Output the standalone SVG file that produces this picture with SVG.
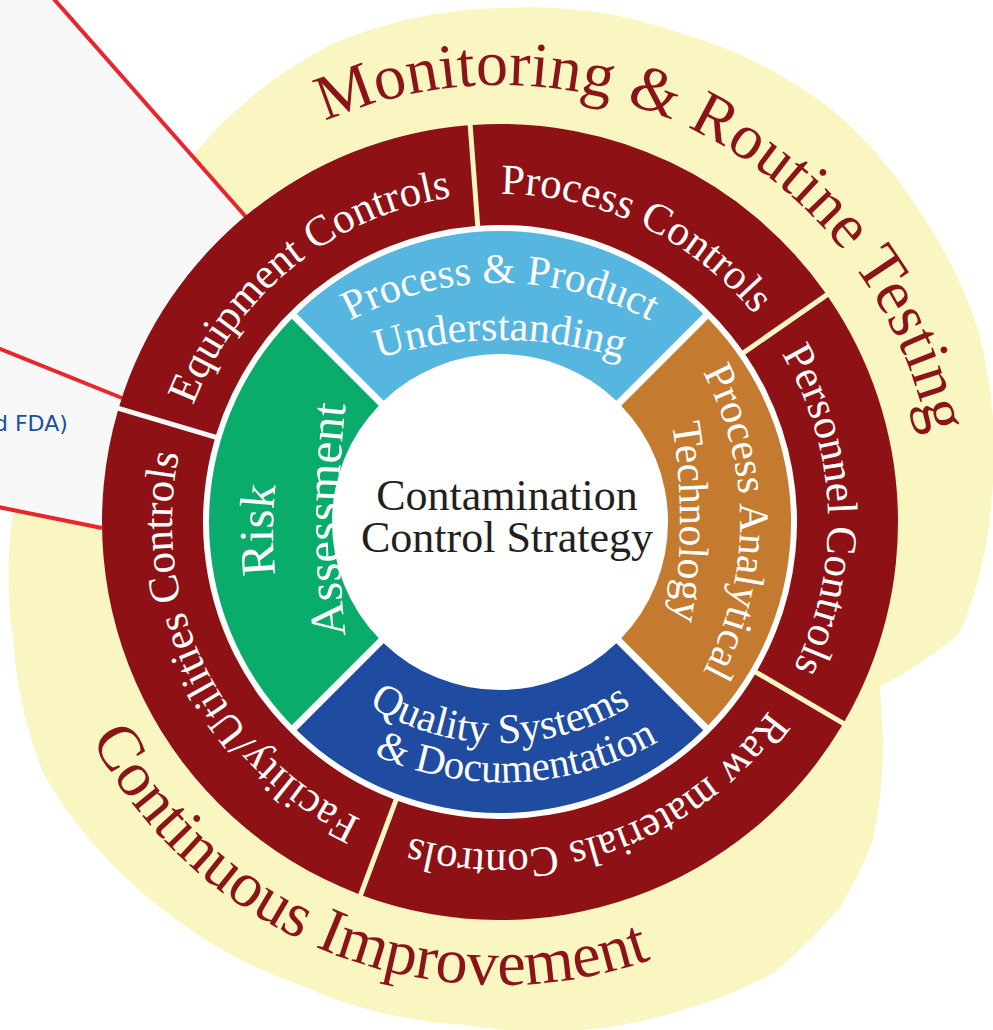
<svg xmlns="http://www.w3.org/2000/svg" width="993" height="1030" viewBox="0 0 993 1030">
<defs>
<style>
.serif{font-family:'Liberation Serif','Times New Roman',serif;}
.lbl{fill:#ffffff;font-size:43px;}
.inl{fill:#ffffff;font-size:42px;}
.inl41{fill:#ffffff;font-size:41px;}
.inl49{fill:#ffffff;font-size:49px;}
.head{fill:#8b1418;font-size:64px;}
.ctr{fill:#231f20;font-size:44px;}
.dark{fill:#8e1116;}
.redline{stroke:#e8262b;stroke-width:4;fill:none;}
</style>
<path id="tp-eq" d="M 212.71 680.27 A 328 328 0 0 1 715.84 275.02"/>
<path id="tp-pc" d="M 232.80 331.76 A 328 328 0 0 1 816.16 609.38"/>
<path id="tp-pe" d="M 544.52 197.03 A 328 328 0 0 1 569.31 842.59"/>
<path id="tp-rm" d="M 823.45 467.58 A 328 328 0 0 1 214.65 683.77"/>
<path id="tp-fu" d="M 592.89 836.58 A 328 328 0 0 1 305.12 258.15"/>
<path id="tp-ppu1" d="M 226.34 441 A 316 316 0 0 1 773.66 441"/>
<path id="tp-ppu2" d="M 233.9 436.9 A 414 414 0 0 1 766.1 436.9"/>
<path id="tp-pat1" d="M 646.3 295.7 A 320 320 0 0 1 646.3 748.3"/>
<path id="tp-pat2" d="M 623.8 268.4 A 600 600 0 0 1 623.8 775.6"/>
<path id="tp-ra1" d="M 390.2 812.8 A 400 400 0 0 1 390.2 247.2"/>
<path id="tp-ra2" d="M 373.1 778.8 A 1000 1000 0 0 1 373.1 261.2"/>
<path id="tp-qs1" d="M 285.2 619 A 248 248 0 0 0 714.8 619"/>
<path id="tp-qs2" d="M 236.24 636.26 A 317 317 0 0 0 784.70 611.03"/>
<path id="tp-mon" d="M 63.45 541.82 A 437 437 0 1 1 735.55 890.09"/>
<path id="tp-ci" d="M 211.78 159.65 A 463 463 0 1 0 957.92 453.56"/>
</defs>

<g id="background">
<path fill="#faf6c2" d="M 880 687 A 450 450 0 0 0 960 633 A 450 450 0 0 0 993 480 A 450 450 0 0 0 978 330 A 450 450 0 0 0 922 215 A 450 450 0 0 0 830 108 A 450 450 0 0 0 680 33 A 450 450 0 0 0 503 8 A 450 450 0 0 0 330 45 A 450 450 0 0 0 193 155 A 450 450 0 0 0 100 320 L 14 505 A 460 460 0 0 0 13 640 A 460 460 0 0 0 43 773 A 460 460 0 0 0 160 907 A 460 460 0 0 0 300 985 A 460 460 0 0 0 467 1025 A 460 460 0 0 0 673 1013 A 460 460 0 0 0 773 973 A 460 460 0 0 0 840 907 A 460 460 0 0 0 873 840 A 460 460 0 0 0 883 740 L 880 687 Z"/>
<path id="callout-panel" fill="#f8f8f8" d="M 0 0 L 54 0 L 246 217 L 400 450 L 101 528 L 0 509 Z"/>
</g>

<g id="connectors">
<line class="redline" x1="53" y1="-2" x2="246" y2="217"/>
<line class="redline" x1="-2" y1="348" x2="122" y2="398"/>
<line class="redline" x1="-2" y1="507" x2="102" y2="528"/>
</g>

<text id="callout-text" x="-6" y="431" font-family="'DejaVu Sans','Verdana',sans-serif" font-size="22" fill="#1d4f9c">d FDA)</text>

<g id="hub">
<circle cx="500" cy="522" r="297" fill="#ffffff"/>
</g>

<g id="equipment-controls">
<path class="dark" d="M 119.31 405.90 A 398 398 0 0 1 467.67 125.32 L 475.25 226.03 A 297 297 0 0 0 216.10 434.77 Z"/>
<text class="serif lbl"><textPath href="#tp-eq" startOffset="50%" text-anchor="middle">Equipment Controls</textPath></text>
</g>
<g id="process-controls">
<path class="dark" d="M 472.65 124.94 A 398 398 0 0 1 825.39 292.80 L 742.46 350.46 A 297 297 0 0 0 480.21 225.66 Z"/>
<text class="serif lbl"><textPath href="#tp-pc" startOffset="50%" text-anchor="middle">Process Controls</textPath></text>
</g>
<g id="personnel-controls">
<path class="dark" d="M 828.25 296.91 A 398 398 0 0 1 844.54 721.24 L 757.42 670.14 A 297 297 0 0 0 745.30 354.55 Z"/>
<text class="serif lbl"><textPath href="#tp-pe" startOffset="50%" text-anchor="middle">Personnel Controls</textPath></text>
</g>
<g id="raw-materials-controls">
<path class="dark" d="M 842.04 725.57 A 398 398 0 0 1 362.96 895.66 L 398.32 801.05 A 297 297 0 0 0 754.90 674.43 Z"/>
<text class="serif lbl"><textPath href="#tp-rm" startOffset="50%" text-anchor="middle">Raw materials Controls</textPath></text>
</g>
<g id="facility-utilities-controls">
<path class="dark" d="M 358.28 893.91 A 398 398 0 0 1 117.88 410.69 L 214.68 439.54 A 297 297 0 0 0 393.66 799.31 Z"/>
<text class="serif lbl"><textPath href="#tp-fu" startOffset="50%" text-anchor="middle">Facility/Utilities Controls</textPath></text>
</g>

<g id="process-product-understanding">
<path fill="#56b6e0" d="M 296.73 313.77 A 291 291 0 0 1 703.27 313.77 L 616.30 400.76 A 168 168 0 0 0 383.70 400.76 Z"/>
<text class="serif inl"><textPath href="#tp-ppu1" startOffset="50%" text-anchor="middle">Process &amp; Product</textPath></text>
<text class="serif inl"><textPath href="#tp-ppu2" startOffset="50%" text-anchor="middle">Understanding</textPath></text>
</g>
<g id="process-analytical-technology">
<path fill="#c47a2f" d="M 708.23 318.73 A 291 291 0 0 1 708.23 725.27 L 621.24 638.30 A 168 168 0 0 0 621.24 405.70 Z"/>
<text class="serif inl"><textPath href="#tp-pat1" startOffset="50%" text-anchor="middle">Process Analytical</textPath></text>
<text class="serif inl"><textPath href="#tp-pat2" startOffset="50%" text-anchor="middle">Technology</textPath></text>
</g>
<g id="quality-systems-documentation">
<path fill="#1f4ca0" d="M 703.27 730.23 A 291 291 0 0 1 296.73 730.23 L 383.70 643.24 A 168 168 0 0 0 616.30 643.24 Z"/>
<text class="serif inl"><textPath href="#tp-qs1" startOffset="50%" text-anchor="middle">Quality Systems</textPath></text>
<text class="serif inl41"><textPath href="#tp-qs2" startOffset="50%" text-anchor="middle">&amp; Documentation</textPath></text>
</g>
<g id="risk-assessment">
<path fill="#0aac6c" d="M 291.77 725.27 A 291 291 0 0 1 291.77 318.73 L 378.76 405.70 A 168 168 0 0 0 378.76 638.30 Z"/>
<text class="serif inl49"><textPath href="#tp-ra1" startOffset="50%" text-anchor="middle">Risk</textPath></text>
<text class="serif inl49"><textPath href="#tp-ra2" startOffset="50%" text-anchor="middle">Assessment</textPath></text>
</g>

<g id="center-strategy">
<text class="serif ctr" x="507" y="510" text-anchor="middle">Contamination</text>
<text class="serif ctr" x="507" y="552" text-anchor="middle">Control Strategy</text>
</g>

<g id="monitoring-routine-testing">
<text class="serif head"><textPath href="#tp-mon" startOffset="50%" text-anchor="middle">Monitoring &amp; Routine Testing</textPath></text>
</g>
<g id="continuous-improvement">
<text class="serif head"><textPath href="#tp-ci" startOffset="50%" text-anchor="middle">Continuous Improvement</textPath></text>
</g>
</svg>
